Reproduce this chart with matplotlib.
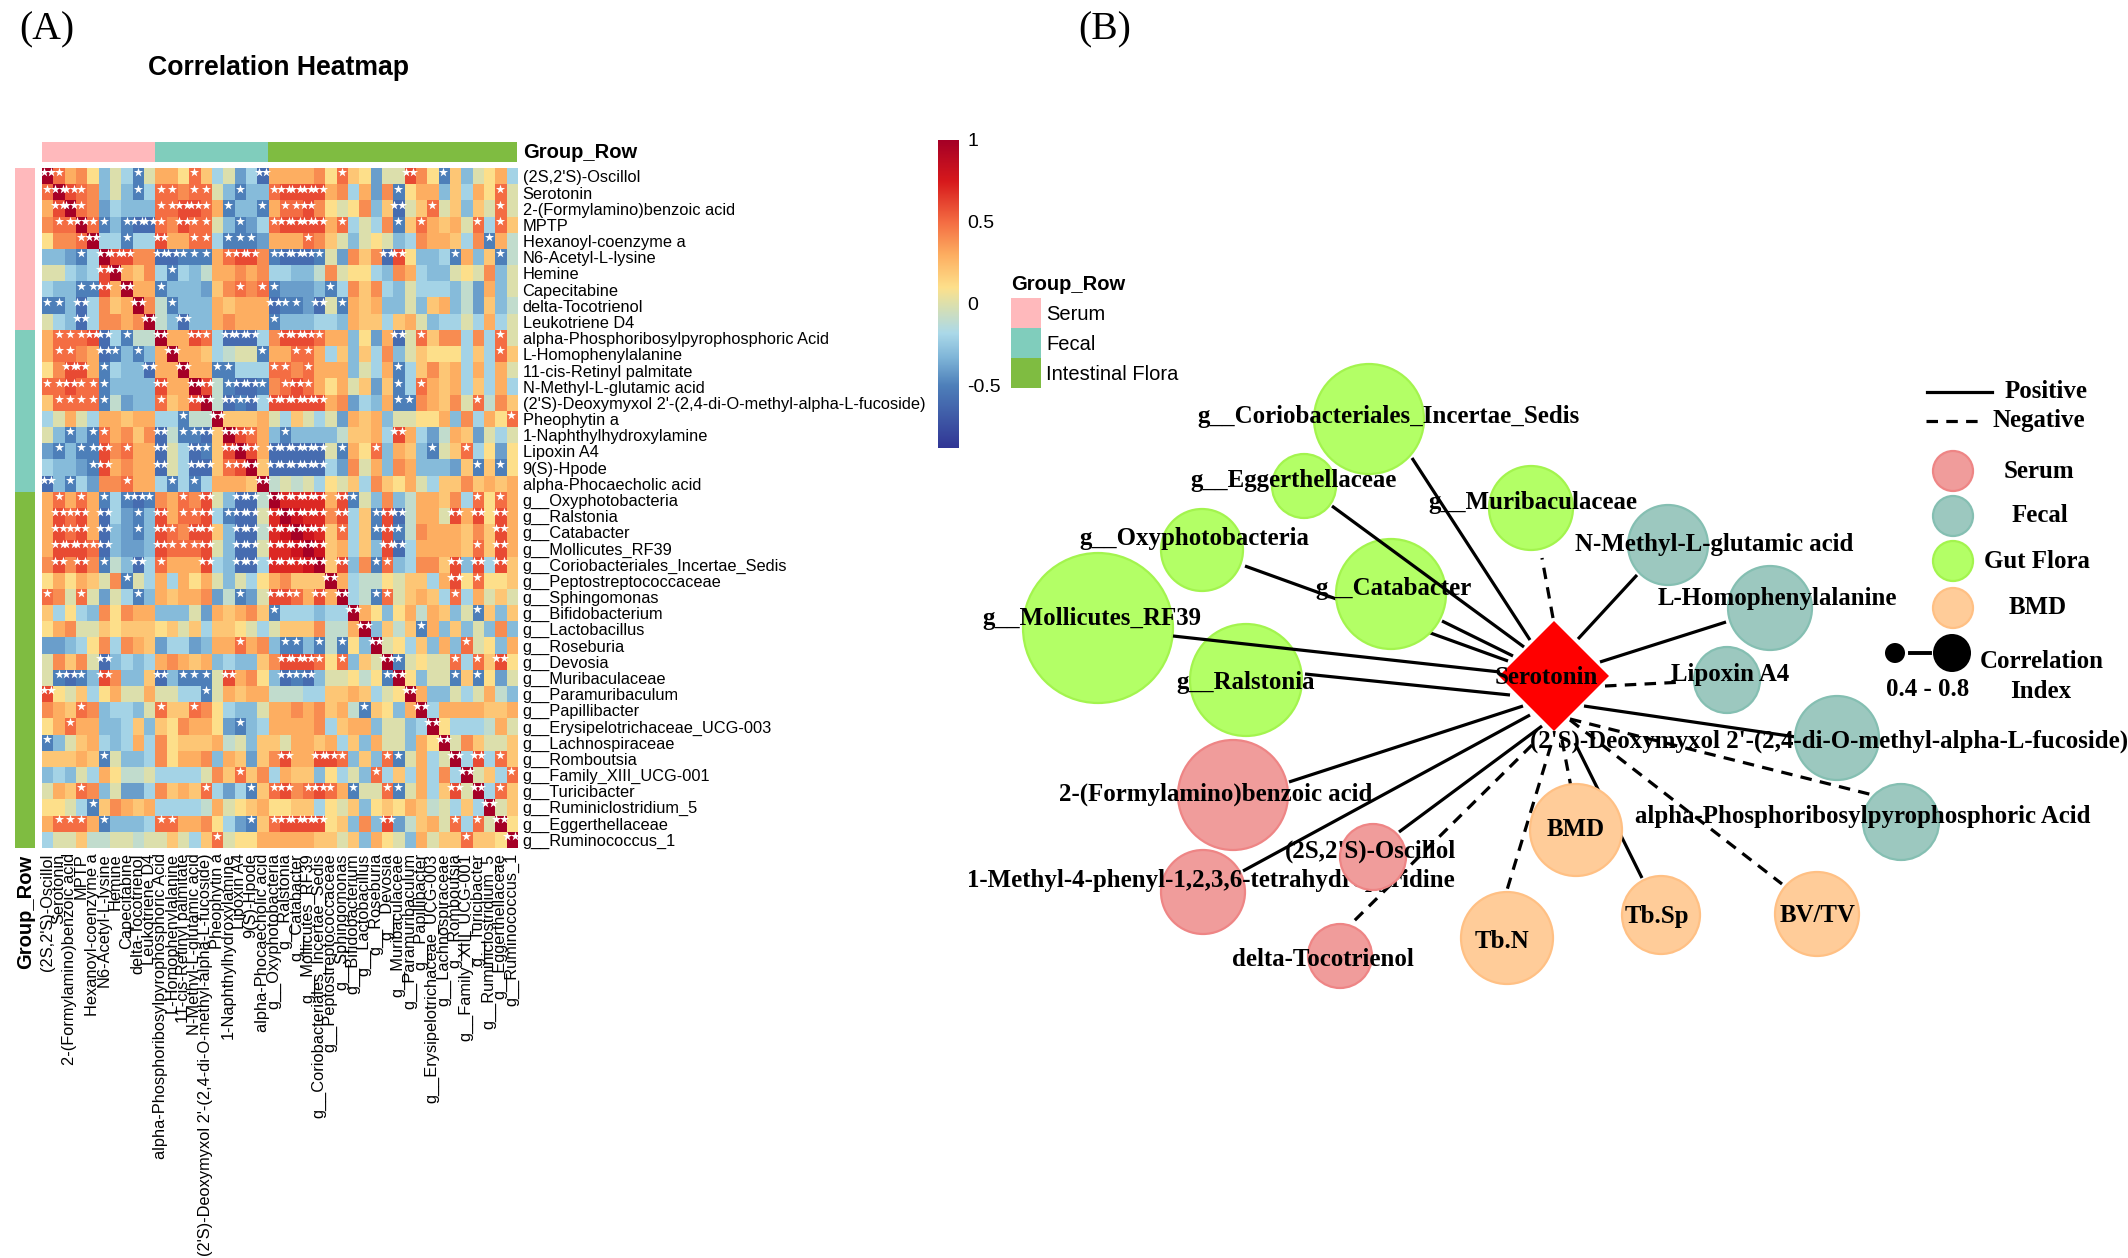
import numpy as np
import matplotlib
matplotlib.use('Agg')
import matplotlib.pyplot as plt
from matplotlib.colors import LinearSegmentedColormap, Normalize
from matplotlib.patches import Circle, Polygon, Rectangle

W, H = 2128, 1258

metabolites = ["(2S,2'S)-Oscillol", "Serotonin", "2-(Formylamino)benzoic acid", "MPTP",
               "Hexanoyl-coenzyme a", "N6-Acetyl-L-lysine", "Hemine", "Capecitabine",
               "delta-Tocotrienol", "Leukotriene D4", "alpha-Phosphoribosylpyrophosphoric Acid",
               "L-Homophenylalanine", "11-cis-Retinyl palmitate", "N-Methyl-L-glutamic acid",
               "(2'S)-Deoxymyxol 2'-(2,4-di-O-methyl-alpha-L-fucoside)", "Pheophytin a",
               "1-Naphthylhydroxylamine", "Lipoxin A4", "9(S)-Hpode", "alpha-Phocaecholic acid"]
genera = ["g__Oxyphotobacteria", "g__Ralstonia", "g__Catabacter", "g__Mollicutes_RF39",
          "g__Coriobacteriales_Incertae_Sedis", "g__Peptostreptococcaceae", "g__Sphingomonas",
          "g__Bifidobacterium", "g__Lactobacillus", "g__Roseburia", "g__Devosia",
          "g__Muribaculaceae", "g__Paramuribaculum", "g__Papillibacter",
          "g__Erysipelotrichaceae_UCG-003", "g__Lachnospiraceae", "g__Romboutsia",
          "g__Family_XIII_UCG-001", "g__Turicibacter", "g__Ruminiclostridium_5",
          "g__Eggerthellaceae", "g__Ruminococcus_1"]
heat_labels = metabolites + genera

# groups along the heatmap edge
group_names = ["Serum", "Fecal", "Intestinal Flora"]
group_sizes = [10, 10, 22]
group_colors = ["#FFB9BC", "#80CDBC", "#7FBC41"]

# upper triangle of the correlation matrix in tenths
corr_upper = [
    [5, 3, 4, 1, -3, 0, -2, -5, 0, 3, 3, 1, 5, 2, -2, 0, -4, -2, -6, 3, 3, 3, 3, 4, 1, 5, 2, 1, -4, 0, 0, 6, 4, 1, -5, 2, -3, 0, 1, 3, -2],
    [6, 5, 4, -3, 0, -3, -5, -2, 5, 5, 4, 5, 5, 0, -3, -5, -3, -3, 5, 6, 6, 6, 6, 3, 4, -2, 3, -4, 4, -5, 1, 3, 3, -3, 2, -2, 3, 1, 5, 0],
    [5, 4, -4, -2, -3, -3, -3, 5, 5, 6, 6, 5, 3, -5, -3, -3, -5, 3, 5, 5, 6, 4, 1, 0, 1, 4, -3, 2, -6, 0, 2, 5, 0, 2, -3, 2, 0, 5, 0],
    [5, -5, -3, -5, -6, -6, 5, 4, 6, 5, 5, 0, -3, -5, -4, -2, 5, 6, 6, 6, 6, 3, 5, -2, 0, -2, 4, -5, 2, 5, 3, 2, 3, 0, 5, -2, 5, 2],
    [-2, -2, -5, -2, -2, 6, 3, 3, 5, 5, -2, -5, -5, -5, -4, 3, 3, 3, 5, 4, 2, 0, -3, 0, 1, 0, -3, -2, 4, 3, 3, 2, -2, 4, -5, 3, -1],
    [6, 6, 4, 4, -6, -6, -5, -5, -5, 3, 5, 6, 6, 4, -5, -6, -6, -6, -5, 0, -4, 4, 2, 4, -6, 6, 1, -3, -3, -2, -5, 3, -3, 2, -5, -1],
    [3, 2, 4, -2, -5, -2, -3, -1, 3, 3, 4, 3, 4, -2, -2, -3, -3, -1, 4, 0, 1, 1, -2, -3, 4, 3, -2, -3, -3, 0, 1, 0, 4, -3, 0],
    [3, 3, -5, -3, -3, -3, -4, 2, 4, 5, 4, 5, -5, -4, -4, -4, -3, -5, -2, 4, 2, 4, -2, -3, 0, -2, -2, -2, -3, -1, -4, 3, -3, 0],
    [4, -1, -5, -3, -3, -3, 3, 2, 3, 3, 3, -6, -5, -5, -4, -6, 0, -5, 3, 2, 3, -3, -3, 0, -3, 2, 3, -3, -1, -4, 2, -3, -1],
    [-1, -3, -6, -3, -3, 3, 4, 3, 3, 3, -5, -3, -3, -3, -2, -2, -3, 3, 2, 2, -2, 2, 3, 0, -3, -2, -2, 0, -2, 3, -2, 0],
    [3, 3, 6, 5, -2, -6, -6, -6, -2, 4, 6, 6, 6, 5, 3, 3, -3, 1, -4, 3, -6, 0, 5, 2, 4, 4, -2, 4, -2, 5, 0],
    [3, 3, 2, -2, -1, 0, 0, -5, 3, 3, 5, 5, 3, -2, 2, -3, 2, -2, 4, -3, 0, 2, 1, 1, 1, -2, 2, -2, 5, 2],
    [3, 3, -5, -5, -2, -2, -2, 5, 5, 4, 5, 3, 3, 3, -3, 0, -2, 3, -5, -2, 2, 4, 2, 3, -2, 3, -2, 3, 0],
    [6, -1, -5, -6, -6, -5, 4, 5, 6, 5, 3, 1, 3, 0, 2, -4, 2, -5, -2, 5, 3, 2, 3, -2, 2, -2, 3, -2],
    [-1, -6, -5, -6, -2, 6, 6, 6, 6, 6, 3, 4, -4, -2, -3, 3, -5, -5, 4, 3, 2, 4, 0, 5, -1, 4, 2],
    [2, 2, 2, 3, 0, -2, 2, 0, -2, 0, -4, 3, 2, 3, -3, 0, 0, 1, 1, 3, -3, 4, -2, 3, 1, 5],
    [6, 5, 3, -3, -5, -3, -3, -3, -3, -1, 2, 2, 3, -2, 6, 3, -2, -4, -1, 3, 2, -4, 0, -2, 0],
    [6, 3, -6, -6, -6, -6, -6, 0, -5, 3, 1, 5, -3, 3, 2, -3, -5, 0, 2, 5, -2, 1, -4, 1],
    [2, -6, -6, -6, -6, -6, -2, -4, 4, 0, 3, -3, 4, 3, -3, -3, -3, -4, 2, -5, 2, -5, 1],
    [-1, 0, -1, 0, -2, 1, 0, 2, -2, 4, 2, 1, 3, 0, -2, 2, 2, 4, 2, 3, 2, 3],
    [7, 7, 7, 7, 3, 6, -5, 0, -3, 4, -3, -1, 3, 3, 2, 4, -2, 5, 1, 5, 3],
    [8, 7, 7, 4, 6, -2, 2, -5, 6, -6, -1, 3, 3, 0, 6, 3, 6, 1, 6, 3],
    [8, 7, 2, 5, -2, 2, -5, 6, -5, -1, 4, 3, 3, 3, 2, 4, 2, 6, 3],
    [8, 2, 3, -2, 2, -3, 6, -6, -2, 3, 3, 3, 3, 2, 5, 2, 6, 3],
    [2, 6, -3, 4, -5, 5, -3, -2, 4, 4, 2, 6, -3, 6, -2, 6, 2],
    [3, -2, -1, -1, 1, 0, 2, 2, -2, 3, 6, 1, 5, 1, 1, 2],
    [-2, -1, -5, 5, 0, 2, 3, 2, -2, 5, -2, 3, 0, 2, 0],
    [3, 1, -3, 1, 3, -1, 3, 2, -3, 0, -5, 2, -3, 2],
    [-3, 2, -1, 2, -5, 3, -3, 2, -3, 0, -3, 4, -3],
    [0, 1, -2, 2, -3, 3, -3, 5, 0, 1, -3, 3],
    [-5, 0, 1, 0, 0, 5, -2, 5, 2, 6, 1],
    [1, -3, 0, 0, -5, 2, -5, 1, -4, 0],
    [3, -3, -3, 0, -2, 0, 3, -1, -3],
    [-2, 3, 3, 3, 3, 2, 2, 3],
    [1, -2, -2, -2, -1, 3, 0],
    [0, 4, 2, 0, 0, 2],
    [-2, 6, -2, 5, 2],
    [0, 2, -2, 5],
    [-2, 5, 2],
    [0, 2],
    [1],
]
one_star = 0.5
two_stars = 0.6

# colour bar range
vmin, vmax = -0.88, 1.0
cbar_ticks = [1, 0.5, 0, -0.5]
cbar_ticklabels = ['1', '0.5', '0', '-0.5']

# network: name, layout position and radius in image pixels, group, edge sign
node_names = ["g__Coriobacteriales_Incertae_Sedis", "g__Eggerthellaceae", "g__Muribaculaceae",
              "g__Oxyphotobacteria", "g__Catabacter", "g__Mollicutes_RF39", "g__Ralstonia",
              "N-Methyl-L-glutamic acid", "L-Homophenylalanine", "Lipoxin A4",
              "(2'S)-Deoxymyxol 2'-(2,4-di-O-methyl-alpha-L-fucoside)",
              "alpha-Phosphoribosylpyrophosphoric Acid", "BMD", "Tb.N", "Tb.Sp", "BV/TV",
              "2-(Formylamino)benzoic acid", "1-Methyl-4-phenyl-1,2,3,6-tetrahydropyridine",
              "(2S,2'S)-Oscillol", "delta-Tocotrienol"]
node_x = [1369, 1304, 1531, 1202, 1391, 1098, 1246, 1668, 1770, 1727, 1837, 1901, 1576, 1507, 1661, 1817, 1233, 1203, 1373, 1340]
node_y = [419, 486, 508, 550, 594, 628, 680, 545, 608, 680, 738, 822, 830, 938, 915, 914, 795, 892, 857, 956]
node_size = [55, 32, 42, 41, 55, 75, 56, 40, 42, 33, 42, 38, 46, 46, 39, 42, 55, 42, 33, 32]
node_group = ["Gut Flora"] * 7 + ["Fecal"] * 5 + ["BMD"] * 4 + ["Serum"] * 4
edge_sign = [1, 1, -1, 1, 1, 1, 1, 1, 1, -1, 1, -1, -1, -1, 1, -1, 1, 1, 1, -1]
# where each edge leaves the hub and where it stops at its node
edge_x0 = [1530, 1524, 1553, 1508, 1513, 1500, 1510, 1578, 1600, 1605, 1584, 1570, 1562, 1551, 1575, 1570, 1523, 1530, 1542, 1532]
edge_y0 = [640, 647, 618, 661, 656, 672, 695, 639, 662, 686, 706, 719, 740, 745, 743, 720, 706, 715, 726, 745]
edge_x1 = [1412, 1332, 1542, 1245, 1442, 1173, 1305, 1637, 1726, 1684, 1796, 1873, 1571, 1507, 1642, 1782, 1289, 1243, 1399, 1350]
edge_y1 = [458, 506, 558, 566, 621, 636, 674, 575, 622, 682, 737, 795, 787, 890, 878, 884, 782, 871, 832, 925]
edges_over_nodes = ["g__Eggerthellaceae", "g__Mollicutes_RF39"]
label_x = [1388, 1294, 1533, 1194, 1393, 1092, 1246, 1714, 1777, 1730, 1829, 1863, 1576, 1502, 1657, 1818, 1216, 1211, 1370, 1323]
label_y = [416, 481, 502, 538, 589, 618, 682, 544, 598, 675, 741, 817, 829, 942, 916, 916, 794, 881, 851, 960]
hub_name = "Serotonin"
hub_x, hub_y, hub_half = 1554, 676, 55

node_fill = {"Serum": "#F09C9B", "Fecal": "#9CC8BF", "Gut Flora": "#B3FF66", "BMD": "#FFCC99"}
node_edge = {"Serum": "#EE8585", "Fecal": "#85BFB2", "Gut Flora": "#A3F44E", "BMD": "#FFC084"}
legend_groups = ["Serum", "Fecal", "Gut Flora", "BMD"]
legend_group_y = [471, 516, 561, 608]
legend_text_x = [2039, 2040, 2037, 2038]

SERIF = 'Liberation Serif'
SANS = 'Liberation Sans'
LABEL_SIZE = 17.9
HEAT_SIZE = 11.8
DASH = (0, (3.6, 2.6))
plt.rcParams['font.family'] = SANS

cmap = LinearSegmentedColormap.from_list('heat', [
    (0.0, '#313695'),
    ((-0.5 - vmin) / (vmax - vmin), '#4E80BA'),
    ((-0.33 - vmin) / (vmax - vmin), '#7FB5D8'),
    ((-0.18 - vmin) / (vmax - vmin), '#ABD9E9'),
    ((0.0 - vmin) / (vmax - vmin), '#DDE0AC'),
    ((0.1 - vmin) / (vmax - vmin), '#FEE08B'),
    ((0.3 - vmin) / (vmax - vmin), '#FDAE61'),
    ((0.5 - vmin) / (vmax - vmin), '#F46D43'),
    ((0.75 - vmin) / (vmax - vmin), '#D7191C'),
    (1.0, '#A50026'),
])
norm = Normalize(vmin, vmax)


def px_axes(fig, x0, y0, x1, y1):
    return fig.add_axes([x0 / W, 1 - y1 / H, (x1 - x0) / W, (y1 - y0) / H])


def build_matrix():
    n = len(heat_labels)
    m = np.eye(n)
    for i, row in enumerate(corr_upper):
        for k, v in enumerate(row):
            m[i, i + 1 + k] = v / 10
            m[i + 1 + k, i] = v / 10
    return m


def draw_heatmap(fig, m):
    n = len(heat_labels)
    ax = px_axes(fig, 41.7, 168.3, 517, 847.7)
    ax.imshow(m, cmap=cmap, norm=norm, aspect='auto', interpolation='nearest')
    rows, cols = np.nonzero(np.abs(m) >= one_star)
    singles = np.abs(m[rows, cols]) < two_stars
    star_x = np.concatenate([cols[singles], cols[~singles] - 0.34, cols[~singles] + 0.34])
    star_y = np.concatenate([rows[singles], rows[~singles], rows[~singles]]) - 0.25
    ax.scatter(star_x, star_y, marker='*', s=48, c='white', linewidths=0, zorder=3)
    ax.set_xlim(-0.5, n - 0.5)
    ax.set_ylim(n - 0.5, -0.5)
    ax.set_xticks(range(n))
    ax.set_xticklabels(heat_labels, rotation=90, fontsize=HEAT_SIZE, va='top', ha='center')
    ax.set_yticks(range(n))
    ax.set_yticklabels(heat_labels, fontsize=HEAT_SIZE)
    ax.yaxis.tick_right()
    ax.tick_params(length=0, pad=4)
    for s in ax.spines.values():
        s.set_visible(False)

    # group strips along the top and the left
    top = px_axes(fig, 41.7, 141.7, 517, 162.3)
    left = px_axes(fig, 15, 168.3, 35, 847.7)
    start = 0
    for size, color in zip(group_sizes, group_colors):
        top.barh(0, size, left=start, height=1, color=color)
        left.bar(0, size, bottom=start, width=1, color=color)
        start += size
    top.set_xlim(0, n)
    top.set_ylim(-0.5, 0.5)
    left.set_ylim(n, 0)
    left.set_xlim(-0.5, 0.5)
    top.axis('off')
    left.axis('off')


def draw_colorbar(fig):
    ax = px_axes(fig, 938, 140, 959, 448)
    grad = np.linspace(vmax, vmin, 256).reshape(-1, 1)
    ax.imshow(grad, cmap=cmap, norm=norm, aspect='auto', extent=[0, 1, vmin, vmax])
    ax.set_xticks([])
    ax.yaxis.tick_right()
    ax.set_yticks(cbar_ticks)
    ax.set_yticklabels(cbar_ticklabels, fontsize=14)
    ax.tick_params(length=0, pad=6)
    for s in ax.spines.values():
        s.set_visible(False)


def draw_network(ax):
    for i, name in enumerate(node_names):
        z = 2.5 if name in edges_over_nodes else 1
        style = '-' if edge_sign[i] > 0 else DASH
        ax.plot([edge_x0[i], edge_x1[i]], [edge_y0[i], edge_y1[i]], color='black', lw=2.3,
                ls=style, zorder=z, solid_capstyle='butt', dash_capstyle='butt')
    for i, name in enumerate(node_names):
        group = node_group[i]
        # Oscillol covers part of the long tetrahydropyridine label
        circle_z = 3.5 if name.startswith("(2S,2'S)") else 2
        label_z = 3 if name.startswith("1-Methyl") else 4
        ax.add_patch(Circle((node_x[i], node_y[i]), node_size[i], facecolor=node_fill[group],
                            edgecolor=node_edge[group], lw=1.6, zorder=circle_z))
        ax.text(label_x[i], label_y[i], name, family=SERIF, fontweight='bold', fontsize=LABEL_SIZE,
                ha='center', va='center', zorder=label_z)
    ax.add_patch(Polygon([(hub_x - hub_half, hub_y), (hub_x, hub_y - hub_half),
                          (hub_x + hub_half, hub_y), (hub_x, hub_y + hub_half)],
                         facecolor='#FF0000', edgecolor='none', zorder=3.8))
    ax.text(1546, 678, hub_name, family=SERIF, fontweight='bold', fontsize=LABEL_SIZE,
            ha='center', va='center', zorder=4)


def draw_legends(ax):
    serif = dict(family=SERIF, fontweight='bold', fontsize=LABEL_SIZE, ha='center', va='center')
    ax.plot([1927, 1992], [392, 392], color='black', lw=2.3)
    ax.plot([1926, 1985], [421, 421], color='black', lw=2.3, ls=DASH)
    ax.text(2046, 392, 'Positive', **serif)
    ax.text(2039, 421, 'Negative', **serif)
    for name, y, x in zip(legend_groups, legend_group_y, legend_text_x):
        ax.add_patch(Circle((1953, y), 20, facecolor=node_fill[name], edgecolor=node_edge[name], lw=1.6))
        ax.text(x, y, name, **serif)
    ax.add_patch(Circle((1895, 653), 10, facecolor='black', edgecolor='none'))
    ax.plot([1910, 1930], [653, 653], color='black', lw=2.8)
    ax.add_patch(Circle((1952, 653), 19, facecolor='black', edgecolor='none'))
    ax.text(1928, 690, '0.4 - 0.8', **serif)
    ax.text(2042, 661, 'Correlation', **serif)
    ax.text(2041, 692, 'Index', **serif)

    # legend of the heatmap groups
    ax.text(1011, 284, 'Group_Row', fontweight='bold', fontsize=14.5, ha='left', va='center')
    for i, (name, color) in enumerate(zip(group_names, group_colors)):
        y = 298 + 30 * i
        ax.add_patch(Rectangle((1011, y), 30, 30, facecolor=color, edgecolor='none'))
        ax.text(1046, y + 17, name, fontsize=14.5, ha='left', va='center')


def main():
    fig = plt.figure(figsize=(W / 100, H / 100), dpi=100)
    overlay = fig.add_axes([0, 0, 1, 1])
    overlay.set_xlim(0, W)
    overlay.set_ylim(H, 0)
    overlay.axis('off')

    draw_heatmap(fig, build_matrix())
    draw_colorbar(fig)
    draw_network(overlay)
    draw_legends(overlay)

    overlay.text(47, 30, '(A)', family=SERIF, fontsize=28.5, ha='center', va='center')
    overlay.text(1105, 30, '(B)', family=SERIF, fontsize=28.5, ha='center', va='center')
    overlay.text(148, 68, 'Correlation Heatmap', fontweight='bold', fontsize=19.2, ha='left', va='center')
    overlay.text(523, 153, 'Group_Row', fontweight='bold', fontsize=14.5, ha='left', va='center')
    overlay.text(26, 855, 'Group_Row', fontweight='bold', fontsize=14.5, rotation=90, ha='center', va='top')

    fig.savefig('out.png', dpi=100)


main()
